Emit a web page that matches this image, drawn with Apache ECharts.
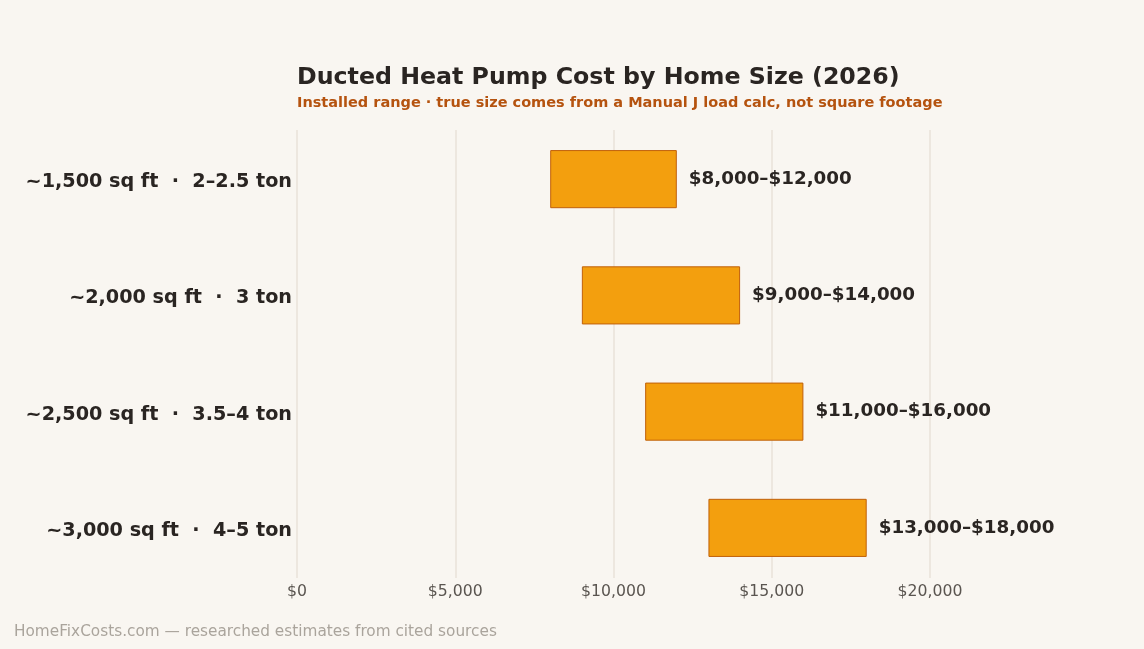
<!DOCTYPE html>
<html>
<head>
<meta charset="utf-8">
<script src="https://cdn.jsdelivr.net/npm/echarts@6/dist/echarts.min.js"></script>
<style>
  html, body { margin: 0; padding: 0; background: #f9f6f1; }
  #c1 { width: 1144px; height: 649px; }
</style>
</head>
<body>
<div id="c1"></div>
<script>
const categories = ['~1,500 sq ft  ·  2–2.5 ton', '~2,000 sq ft  ·  3 ton', '~2,500 sq ft  ·  3.5–4 ton', '~3,000 sq ft  ·  4–5 ton']
const lows = [8000, 9000, 11000, 13000]
const highs = [12000, 14000, 16000, 18000]

const fmt = v => '$' + v.toLocaleString('en-US')
const font = 'DejaVu Sans'

const myChart = echarts.init(document.getElementById('c1'))
const option = {
  backgroundColor: '#f9f6f1',
  textStyle: { fontFamily: font },
  title: [
    {
      text: 'Ducted Heat Pump Cost by Home Size (2026)',
      left: 297, top: 66, padding: 0,
      textStyle: { fontFamily: font, fontSize: 23.7, fontWeight: 'bold', color: '#2a2522' }
    },
    {
      text: 'Installed range · true size comes from a Manual J load calc, not square footage',
      left: 297, top: 96, padding: 0,
      textStyle: { fontFamily: font, fontSize: 14.5, fontWeight: 'bold', color: '#b5530f' }
    },
    {
      text: 'HomeFixCosts.com — researched estimates from cited sources',
      left: 14, top: 625, padding: 0,
      textStyle: { fontFamily: font, fontSize: 15.3, fontWeight: 'normal', color: '#aaa49c' }
    }
  ],
  grid: [
    // bars
    { left: 297, right: 214, top: 121, bottom: 63 },
    // gridlines + tick labels
    { left: 297, right: 214, top: 130, bottom: 71 }
  ],
  xAxis: [
    {
      gridIndex: 0, type: 'value', min: 0, max: 20000,
      show: false
    },
    {
      gridIndex: 1, type: 'value', min: 0, max: 20000, interval: 5000,
      axisLine: { show: false },
      axisTick: { show: false },
      axisLabel: { formatter: fmt, fontFamily: font, fontSize: 15.7, color: '#5a5550', margin: 6 },
      splitLine: { lineStyle: { color: '#e8e2d8', width: 1.5 } }
    }
  ],
  yAxis: [
    {
      gridIndex: 0, type: 'category', data: categories, inverse: true,
      axisLine: { show: false },
      axisTick: { show: false },
      axisLabel: { show: false },
      splitLine: { show: false }
    },
    {
      gridIndex: 1, type: 'category', data: categories, inverse: true,
      show: false
    }
  ],
  series: [
    {
      type: 'bar', stack: 'r', xAxisIndex: 0, yAxisIndex: 0,
      data: lows,
      itemStyle: { color: 'transparent' },
      emphasis: { disabled: true },
      silent: true,
      barWidth: '50%'
    },
    {
      type: 'bar', stack: 'r', xAxisIndex: 0, yAxisIndex: 0,
      data: highs.map((h, i) => h - lows[i]),
      barWidth: '50%',
      itemStyle: { color: '#f39f0e', borderColor: '#c0600a', borderWidth: 1 },
      label: {
        show: true, position: 'right', distance: 12,
        formatter: p => fmt(lows[p.dataIndex]) + '–' + fmt(highs[p.dataIndex]),
        fontFamily: font, fontSize: 18.3, fontWeight: 'bold', color: '#2a2522'
      }
    },
    {
      // category names, placed left of the axis start
      type: 'bar', xAxisIndex: 0, yAxisIndex: 0,
      data: categories.map(() => 0),
      barWidth: '50%', barGap: '-100%',
      itemStyle: { color: 'transparent' },
      silent: true,
      label: {
        show: true, position: 'left', distance: 5, offset: [0, 3],
        formatter: p => categories[p.dataIndex],
        fontFamily: font, fontSize: 19.2, fontWeight: 'bold', color: '#2a2522'
      }
    },
    {
      type: 'scatter', xAxisIndex: 1, yAxisIndex: 1, data: []
    }
  ]
}
myChart.setOption(option)
</script>
</body>
</html>
